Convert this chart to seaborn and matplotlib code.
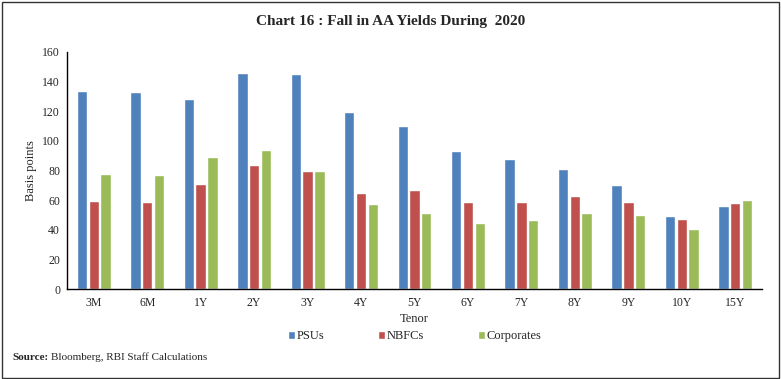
import matplotlib
matplotlib.use("Agg")
import matplotlib.pyplot as plt
import matplotlib.patches as mpatches
import seaborn as sns
import pandas as pd
import numpy as np

tenors = ['3M', '6M', '1Y', '2Y', '3Y', '4Y', '5Y', '6Y', '7Y', '8Y', '9Y', '10Y', '15Y']
psus = [133.5, 133, 128, 145.5, 145, 119.5, 110, 93.5, 87.5, 81, 70, 49.5, 56]
nbfcs = [59.5, 59, 71, 83.5, 80, 64.5, 67, 58.5, 58.5, 62.5, 59, 47.5, 58]
corporates = [77.5, 77, 89, 94, 80, 57.5, 51, 44.5, 46.5, 51.5, 50, 40.5, 60]
series_names = ['PSUs', 'NBFCs', 'Corporates']
colors = ['#4F81BD', '#C0504D', '#9BBB59']

df = pd.DataFrame({'Tenor': tenors, 'PSUs': psus, 'NBFCs': nbfcs, 'Corporates': corporates})
long = df.melt(id_vars='Tenor', var_name='Series', value_name='bp')

sns.set_style('white')
plt.rcParams['font.family'] = ['Liberation Serif', 'DejaVu Serif']

fig = plt.figure(figsize=(7.81, 3.79), dpi=100)
ax = fig.add_axes([67 / 781, 1 - 289 / 379, 695 / 781, 237 / 379])

sns.barplot(data=long, x='Tenor', y='bp', hue='Series', order=tenors,
            hue_order=series_names, palette=colors, width=0.66, gap=0.12,
            saturation=1, ax=ax, legend=True)

ax.set_ylim(0, 160)
ax.set_yticks(range(0, 161, 20))
ax.set_xlim(-0.5, len(tenors) - 0.5)
ax.set_xticks(np.arange(-0.5, len(tenors)), minor=True)
ax.tick_params(axis='x', which='major', length=0, labelsize=8.5, pad=6)
ax.tick_params(axis='x', which='minor', length=4, width=1, direction='out', color='black')
ax.tick_params(axis='y', length=4, width=1, direction='out', labelsize=8.5, color='black', pad=1)
ax.set_xlabel('Tenor', fontsize=9, labelpad=3)
ax.set_ylabel('Basis points', fontsize=9, labelpad=4)
for side in ['top', 'right']:
    ax.spines[side].set_visible(False)
for side in ['left', 'bottom']:
    ax.spines[side].set_color('black')
    ax.spines[side].set_linewidth(1)

handles, labels = ax.get_legend_handles_labels()
ax.legend(handles, labels, loc='center', bbox_to_anchor=(0.5, -0.2), ncol=3,
          frameon=False, fontsize=9, handlelength=0.6, handleheight=0.6,
          handletextpad=0.1, columnspacing=4.3)

fig.text(0.5, 1 - 22 / 379, 'Chart 16 : Fall in AA Yields During  2020', ha='center', va='center',
         fontsize=11, fontweight='bold')
src = fig.text(12 / 781, 1 - 357 / 379, 'Source:', ha='left', va='center', fontsize=8,
               fontweight='bold')
fig.canvas.draw()
bb = src.get_window_extent().transformed(fig.transFigure.inverted())
fig.text(bb.x1 + 3 / 781, 1 - 357 / 379, 'Bloomberg, RBI Staff Calculations', ha='left',
         va='center', fontsize=8)
fig.patches.append(mpatches.Rectangle((0.002, 0.003), 0.995, 0.993, transform=fig.transFigure,
                                      fill=False, edgecolor='#333333', linewidth=1))

fig.savefig('out.png', dpi=100)
